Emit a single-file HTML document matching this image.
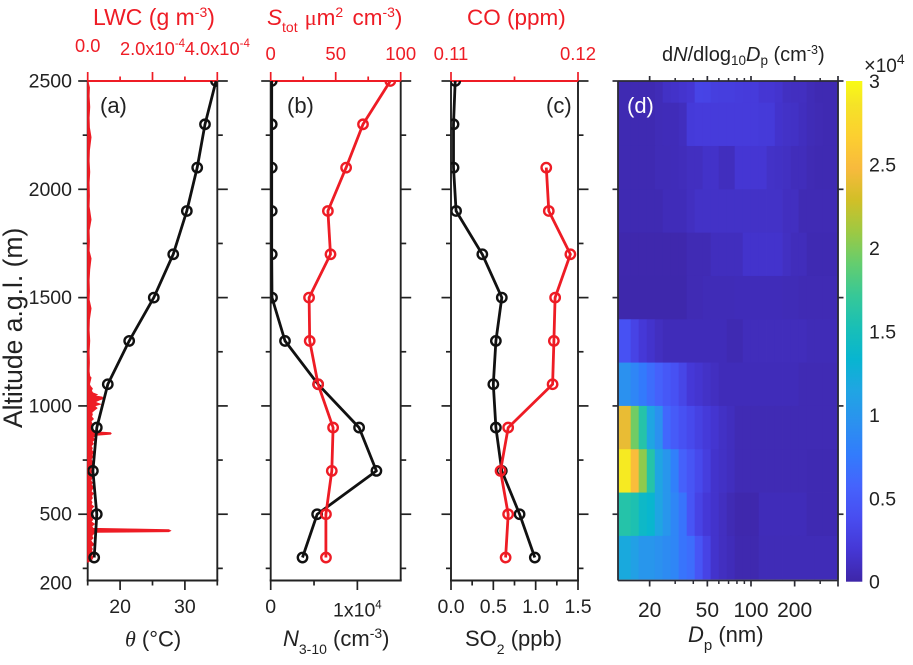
<!DOCTYPE html>
<html lang="en">
<head>
<meta charset="utf-8">
<title>Vertical profiles</title>
<style>
html,body{margin:0;padding:0;background:#fff;width:913px;height:665px;overflow:hidden}
svg{display:block}
text{font-family:"Liberation Sans",Arial,sans-serif;fill:#222}
.red{fill:#ee1c25}
.it{font-style:italic}
.serif{font-family:"Liberation Serif",serif}
</style>
</head>
<body>
<svg id="chart" xmlns="http://www.w3.org/2000/svg" width="913" height="665" viewBox="0 0 913 665">
  <defs id="defs">
    <clipPath id="clip-a"><rect x="87.7" y="81" width="129.6" height="499.5"/></clipPath>
    <clipPath id="clip-b"><rect x="270.7" y="81" width="130" height="499.5"/></clipPath>
    <clipPath id="clip-c"><rect x="451" y="81" width="127" height="499.5"/></clipPath>
  </defs>

  <text transform="translate(22,428) rotate(-90)" font-size="26.5">Altitude a.g.l. (m)</text>

  <text class="red" x="93" y="25" font-size="23">LWC (g m<tspan font-size="14" dy="-8">-3</tspan><tspan dy="8">)</tspan></text>
  <text class="red" x="267" y="25" font-size="22.5"><tspan class="it">S</tspan><tspan font-size="14" dy="7">tot</tspan><tspan dy="-7" dx="7" class="serif">μ</tspan>m<tspan font-size="14" dy="-8">2</tspan><tspan dy="8" dx="3"> cm</tspan><tspan font-size="14" dy="-8">-3</tspan><tspan dy="8">)</tspan></text>
  <text class="red" x="467" y="25" font-size="22.5">CO (ppm)</text>
  <text x="662" y="61" font-size="20">d<tspan class="it">N</tspan>/dlog<tspan font-size="13.5" dy="4">10</tspan><tspan class="it" dy="-4">D</tspan><tspan font-size="13.5" dy="4">p</tspan><tspan dy="-4"> (cm</tspan><tspan font-size="12.5" dy="-7">-3</tspan><tspan dy="7">)</tspan></text>

  <text x="125" y="646.5" font-size="22"><tspan class="serif it">θ</tspan> (°C)</text>
  <text x="283" y="646" font-size="22"><tspan class="it">N</tspan><tspan font-size="14" dy="8">3-10</tspan><tspan dy="-8"> (cm</tspan><tspan font-size="14" dy="-8">-3</tspan><tspan dy="8">)</tspan></text>
  <text x="465" y="646" font-size="22">SO<tspan font-size="14" dy="8">2</tspan><tspan dy="-8"> (ppb)</tspan></text>
  <text x="688" y="642" font-size="22"><tspan class="it">D</tspan><tspan font-size="15" dy="8">p</tspan><tspan dy="-8"> (nm)</tspan></text>

  <g id="heat"></g>
  <g id="colorbar"></g>
  <g id="axes"></g>
  <g id="series"></g>

  <text x="100" y="113" font-size="22">(a)</text>
  <text x="287" y="113" font-size="22">(b)</text>
  <text x="546" y="113" font-size="22">(c)</text>
  <text x="627" y="113" font-size="22" style="fill:#fff">(d)</text>

  <text x="864" y="72" font-size="19"><tspan font-size="20">×</tspan>10<tspan font-size="14" dy="-8">4</tspan></text>
</svg>

<script>
// ---- profile data ----
var profileAltitudes = [2500,2300,2100,1900,1700,1500,1300,1100,900,700,500,300];
var thetaValues = [34.8,33.1,31.9,30.3,28.2,25.2,21.4,18.1,16.4,15.8,16.4,16.0];
var n310Values = [120,120,120,120,120,150,1650,5470,10200,12200,5360,3670];
var stotValues = [92,71,58,44,46,29.5,30,36.5,48,47,42.5,42.5];
var so2Values = [0.05,0.03,0.03,0.06,0.37,0.60,0.53,0.50,0.53,0.60,0.81,0.99];
var coAltitudes = [2100,1900,1700,1500,1300,1100,900,700,500,300];
var coValues = [0.1175,0.1177,0.1194,0.1182,0.1181,0.1180,0.1145,0.1139,0.1145,0.1143];

// LWC trace: altitude (m) and LWC (1e-6 g m-3)
var lwcAltitudes = [280,290,300,310,320,330,340,350,360,370,380,390,400,410,417,420,424,428,431,434,445,455,465,475,485,495,505,515,525,535,545,555,565,575,585,595,605,615,625,635,645,655,665,675,685,695,705,715,725,735,745,755,765,775,785,795,805,815,825,835,845,855,865,870,873,876,879,882,890,900,910,920,930,940,950,960,970,980,990,1000,1008,1015,1020,1028,1034,1040,1046,1052,1060,1070,1080,1090,1100,1130,1137,1160,1200,1250,1300,1350,1400,1450,1490,1530,1580,1630,1680,1715,1760,1810,1860,1920,1970,2030,2080,2130,2180,2240,2285,2330,2380,2430,2470,2500];
var lwcValues = [2,12,16,12,18,11,14,10,19,13,9,16,12,18,24,250,255,250,150,16,12,20,10,15,11,17,9,14,11,18,10,13,9,14,11,17,10,13,19,10,14,9,12,17,10,12,9,14,11,19,13,10,16,12,20,11,14,10,17,13,21,15,26,70,72,70,30,24,15,11,17,12,10,17,11,14,12,20,28,20,38,26,24,36,48,44,20,28,15,11,14,8,5,10,6,4,5,4,6,4,5,10,4,5,4,6,10,4,5,4,10,4,5,4,6,4,5,10,5,4,6,4,5];

// ---- heatmap data: dN/dlogDp in units of 1e4 cm-3 ----
var heatDpEdges = [12.1,14.8,16.8,19.1,21.7,24.6,27.9,31.7,36.0,40.9,46.4,52.7,59.9,68.0,77.2,87.7,99.6,113,128,146,165,188,213,242,275,312,355,400];
var heatAltitudes = [2500,2300,2100,1900,1700,1500,1300,1100,900,700,500,300];
var conc2500 = [.04,.04,.04,.04,.06,.12,.14,.16,.18,.31,.3,.26,.25,.25,.24,.23,.23,.18,.18,.16,.11,.1,.1,.06,.04,.04,.04];
var conc2300 = [.04,.04,.04,.04,.06,.07,.07,.09,.22,.23,.23,.23,.23,.23,.23,.23,.23,.22,.22,.15,.13,.12,.09,.06,.05,.04,.04];
var conc2100 = [.04,.04,.04,.04,.06,.06,.07,.08,.1,.1,.14,.14,.09,.09,.18,.18,.18,.18,.13,.12,.11,.08,.08,.05,.04,.04,.04];
var conc1900 = [.04,.04,.04,.04,.04,.07,.07,.07,.1,.13,.13,.13,.13,.13,.13,.13,.13,.13,.13,.13,.1,.1,.05,.05,.05,.05,.05];
var conc1700 = [.02,.02,.02,.02,.02,.02,.02,.02,.05,.05,.05,.09,.09,.09,.09,.15,.15,.15,.15,.15,.11,.08,.08,.04,.04,.04,.04];
var conc1500 = [.015,.015,.015,.015,.015,.015,.015,.015,.05,.05,.06,.06,.06,.06,.07,.07,.07,.07,.07,.07,.06,.06,.05,.05,.05,.05,.05];
var conc1300 = [.42,.3,.2,.15,.1,.07,.07,.07,.07,.07,.07,.07,.07,.04,.04,.08,.08,.08,.08,.08,.08,.08,.08,.06,.06,.06,.06];
var conc1100 = [.95,.85,.75,.65,.55,.48,.42,.32,.2,.17,.13,.1,.07,.07,.07,.07,.07,.07,.07,.07,.07,.07,.05,.05,.05,.05,.05];
var conc900 = [2.4,1.95,1.6,1.15,.95,.6,.5,.42,.35,.28,.22,.17,.12,.09,.05,.05,.05,.05,.05,.05,.05,.05,.05,.05,.05,.05,.05];
var conc700 = [2.9,2.5,2.05,1.6,1.15,1.0,.8,.55,.45,.35,.25,.15,.12,.09,.05,.05,.05,.05,.05,.05,.05,.05,.05,.04,.04,.04,.04];
var conc500 = [1.6,1.55,1.4,1.35,1.15,1.0,.85,.7,.45,.3,.2,.15,.1,.05,.02,.02,.02,.07,.07,.07,.07,.07,.07,.04,.04,.04,.04];
var conc300 = [1.2,1.1,1.0,1.0,.95,.9,.85,.7,.65,.45,.3,.15,.1,.07,.03,.03,.03,.06,.06,.06,.06,.06,.06,.06,.06,.06,.06];
var heatRows = [conc2500,conc2300,conc2100,conc1900,conc1700,conc1500,conc1300,conc1100,conc900,conc700,conc500,conc300];

// ---- tick values and labels ----
var yMajorTicks = [2500,2000,1500,1000,500];
var yMinorTicks = [2250,1750,1250,750,250];
var yTickLabels = ['2500','2000','1500','1000','500','200'];
var yTickLabelValues = [2500,2000,1500,1000,500,200];
var thetaTicks = [15,20,25,30,35];
var thetaLabels = ['','20','','30',''];
var lwcTicks = [0,1e-4,2e-4,3e-4,4e-4];
var lwcLabels = ['0.0','','2.0x10','','4.0x10'];
var lwcSups = ['','','-4','','-4'];
var nTicks = [0,5000,10000];
var nLabels = ['0','','1x10'];
var nSups = ['','','4'];
var stotTicks = [0,25,50,75,100];
var stotLabels = ['0','','50','','100'];
var so2Ticks = [0,0.25,0.5,0.75,1,1.25,1.5];
var so2Labels = ['0.0','','0.5','','1.0','','1.5'];
var coTicks = [0.11,0.115,0.12];
var coLabels = ['0.11','','0.12'];
var dpMajorTicks = [20,50,100,200,400];
var dpMinorTicks = [30,40,60,70,80,90,300];
var dpLabelValues = [20,50,100,200];
var colorbarTicks = [0,0.5,1,1.5,2,2.5,3];
var colorbarLabels = ['0','0.5','1','1.5','2','2.5','3'];

// ---- axis functions ----
var TOP = 81, BOTTOM = 580.5;
function linear(d0,d1,r0,r1){ return function(v){ return r0+(v-d0)*(r1-r0)/(d1-d0); }; }
var yAlt = linear(2500,200,81,579.2);
var xTheta = linear(15,35,87.7,217.3);
var xLwc = linear(0,4e-4,87.7,217.3);
var xN = linear(0,15000,270.7,400.7);
var xStot = linear(0,100,270.7,400.7);
var xSo2 = linear(0,1.5,451,578);
var xCo = linear(0.11,0.12,451,578);
function xDp(d){ return 751+145*Math.log10(d/100); }
var yBar = linear(0,3,581.7,81);

// ---- colour ramp (parula) ----
var RAMP = [[.2422,.1504,.6603],[.2706,.2147,.8364],[.2813,.3006,.9414],[.2699,.3892,.9906],[.1963,.4847,.9892],[.1687,.5703,.9359],[.1248,.6459,.8883],[.0297,.7082,.8163],[.0964,.75,.712],[.2161,.7843,.5923],[.3909,.8029,.4354],[.6174,.7876,.2612],[.8203,.7498,.1535],[.9728,.7298,.2394],[.9892,.8136,.1885],[.961,.889,.1537],[.9769,.9839,.0805]];
var RAMP_POS = [0,4,8,12,16,20,24,28,32,36,40,44,48,52,56,60,63];
function color(v){
  var t = Math.max(0,Math.min(1,v/3))*63, i = 0;
  while(i < RAMP_POS.length-2 && t > RAMP_POS[i+1]) i++;
  var f = (t-RAMP_POS[i])/(RAMP_POS[i+1]-RAMP_POS[i]);
  var c = [0,1,2].map(function(k){ return Math.round(255*(RAMP[i][k]+f*(RAMP[i+1][k]-RAMP[i][k]))); });
  return 'rgb('+c.join(',')+')';
}

// ---- drawing helpers ----
var NS = 'http://www.w3.org/2000/svg';
function add(parent,tag,attrs){
  var el = document.createElementNS(NS,tag);
  for(var k in attrs) el.setAttribute(k,attrs[k]);
  parent.appendChild(el);
  return el;
}
function tickLine(parent,x1,y1,x2,y2,col,w){
  var el = add(parent,'line',{x1:x1,y1:y1,x2:x2,y2:y2,stroke:col,'stroke-width':w});
  
  
  return el;
}
function tickText(parent,x,y,str,sup,size,cls,anchor){
  var el = add(parent,'text',{x:x,y:y,'font-size':size,'text-anchor':anchor||'middle'});
  
  
  if(cls) el.setAttribute('class',cls);
  el.appendChild(document.createTextNode(str));
  if(sup){
    var s = add(el,'tspan',{dy:-8,'font-size':11.5});
    s.textContent = sup;
  }
  return el;
}

var axes = document.getElementById('axes');
var seriesG = document.getElementById('series');
var INK = '#222', REDC = '#ee1c25';

// ---- generic line panel frame ----
function frame(x0,x1,bottomScale,bTicks,bLabels,bSups,topScale,tTicks,tLabels,tSups,tBase,fontSize){
  var g = add(axes,'g',{});
  
  
  yMajorTicks.forEach(function(v){
    var y = yAlt(v);
    tickLine(g,x0-9.5,y,x0,y,INK,1.7);
    tickLine(g,x1,y,x1+10.5,y,INK,1.7);
  });
  yMinorTicks.forEach(function(v){
    var y = yAlt(v);
    tickLine(g,x0-5,y,x0,y,INK,1.7);
    tickLine(g,x1,y,x1+5.5,y,INK,1.7);
  });
  tickLine(g,x0,TOP,x0,BOTTOM,INK,1.9);
  tickLine(g,x1,TOP,x1,BOTTOM,INK,1.9);
  tickLine(g,x0-1,BOTTOM,x1+1,BOTTOM,INK,1.9);
  bTicks.forEach(function(v,i){
    var x = bottomScale(v);
    tickLine(g,x,BOTTOM,x,BOTTOM+(bLabels[i]!==''?9.5:5),INK,1.7);
    if(bLabels[i]!=='') tickText(g,x,(bSups&&bSups[i])?616.7:613,bLabels[i],bSups&&bSups[i],19.5);
  });
  tickLine(g,x0,TOP,x1,TOP,REDC,1.9);
  tTicks.forEach(function(v,i){
    var x = topScale(v);
    tickLine(g,x,TOP,x,TOP-(tLabels[i]!==''?9:4.5),REDC,1.7);
    if(tLabels[i]!=='') tickText(g,x,(tSups&&tSups[i])?tBase+3:tBase,tLabels[i],tSups&&tSups[i],fontSize,'red');
  });
}

// ---- profile line with markers ----
function profile(name,clip,scale,values,alts,col){
  var g = add(seriesG,'g',{'clip-path':'url(#'+clip+')'});
  
  
  var pts = values.map(function(v,i){ return scale(v).toFixed(1)+','+yAlt(alts[i]).toFixed(1); });
  var line = add(g,'polyline',{points:pts.join(' '),fill:'none',stroke:col,'stroke-width':2.8,'stroke-linejoin':'round'});
  
  
  values.forEach(function(v,i){
    var c = add(g,'circle',{cx:scale(v),cy:yAlt(alts[i]),r:4.7,fill:'none',stroke:col,'stroke-width':2.4});
    
    
  });
}

// ---- heatmap ----
(function(){
  var g = document.getElementById('heat');
  heatRows.forEach(function(row,r){
    var a = heatAltitudes[r];
    var yT = Math.max(TOP,yAlt(a+100));
    var yB = Math.min(BOTTOM,yAlt(a-100));
    row.forEach(function(v,c){
      var xL = xDp(heatDpEdges[c]), xR = xDp(heatDpEdges[c+1]);
      var cell = add(g,'rect',{x:xL.toFixed(2),y:yT.toFixed(2),width:(xR-xL+0.4).toFixed(2),height:(yB-yT+0.4).toFixed(2),fill:color(v)});
      
      
    });
  });
  var gA = add(axes,'g',{});
  
  
  var X0 = 618, X1 = 838, C = '#2b2b33';
  yMajorTicks.forEach(function(v){
    var y = yAlt(v);
    tickLine(gA,X0-5.5,y,X0,y,C,1.7);
    tickLine(gA,X1,y,X1+5.5,y,C,1.7);
  });
  tickLine(gA,X0,TOP,X1,TOP,C,1.8);
  tickLine(gA,X0,BOTTOM,X1,BOTTOM,C,1.8);
  tickLine(gA,X0,TOP,X0,BOTTOM,C,1.8);
  tickLine(gA,X1,TOP,X1,BOTTOM,C,1.8);
  dpMajorTicks.forEach(function(d){
    var x = Math.min(xDp(d),X1);
    tickLine(gA,x,TOP-5,x,TOP,C,1.7);
    tickLine(gA,x,BOTTOM,x,BOTTOM+6,C,1.7);
  });
  dpMinorTicks.forEach(function(d){
    var x = xDp(d);
    tickLine(gA,x,TOP-3,x,TOP,C,1.5);
    tickLine(gA,x,BOTTOM,x,BOTTOM+3.5,C,1.5);
  });
  dpLabelValues.forEach(function(d){
    tickText(gA,xDp(d),617,String(d),'',21);
  });
})();

// ---- colorbar ----
(function(){
  var defs = document.getElementById('defs');
  var grad = add(defs,'linearGradient',{id:'bar-grad',x1:0,y1:1,x2:0,y2:0});
  RAMP_POS.forEach(function(p){
    add(grad,'stop',{offset:(p/63).toFixed(4),'stop-color':color(p/63*3)});
  });
  var g = document.getElementById('colorbar');
  var bar = add(g,'rect',{x:846,y:yBar(3),width:16.3,height:yBar(0)-yBar(3),fill:'url(#bar-grad)'});
  
  
  colorbarTicks.forEach(function(v,i){
    var t = tickText(g,869,yBar(v)+7,colorbarLabels[i],'',19.5,'','start');
    
  });
})();

// ---- panels ----
frame(87.7,217.3,xTheta,thetaTicks,thetaLabels,null,xLwc,lwcTicks,lwcLabels,lwcSups,52,18.3);
frame(270.7,400.7,xN,nTicks,nLabels,nSups,xStot,stotTicks,stotLabels,null,60,18.5);
frame(451,578,xSo2,so2Ticks,so2Labels,null,xCo,coTicks,coLabels,null,60,18.5);

yTickLabelValues.forEach(function(v,i){
  tickText(axes,72,yAlt(v)+(v===200?10.5:6.5),yTickLabels[i],'',19.5,'','end');
});

// ---- LWC trace (filled down to the axis, drawn above the left axis) ----
(function(){
  var g = add(seriesG,'g',{});
  
  
  var pts = lwcValues.map(function(v,i){ return xLwc(v*1e-6).toFixed(1)+','+yAlt(lwcAltitudes[i]).toFixed(1); });
  var base = xLwc(0);
  var poly = add(g,'polygon',{points:base+','+yAlt(lwcAltitudes[0]).toFixed(1)+' '+pts.join(' ')+' '+base+','+yAlt(lwcAltitudes[lwcAltitudes.length-1]).toFixed(1),fill:REDC,stroke:REDC,'stroke-width':1.2});
  
  
})();

profile('theta-series','clip-a',xTheta,thetaValues,profileAltitudes,'#111');
profile('n3-10-series','clip-b',xN,n310Values,profileAltitudes,'#111');
profile('stot-series','clip-b',xStot,stotValues,profileAltitudes,REDC);
profile('so2-series','clip-c',xSo2,so2Values,profileAltitudes,'#111');
profile('co-series','clip-c',xCo,coValues,coAltitudes,REDC);
</script>
</body>
</html>
